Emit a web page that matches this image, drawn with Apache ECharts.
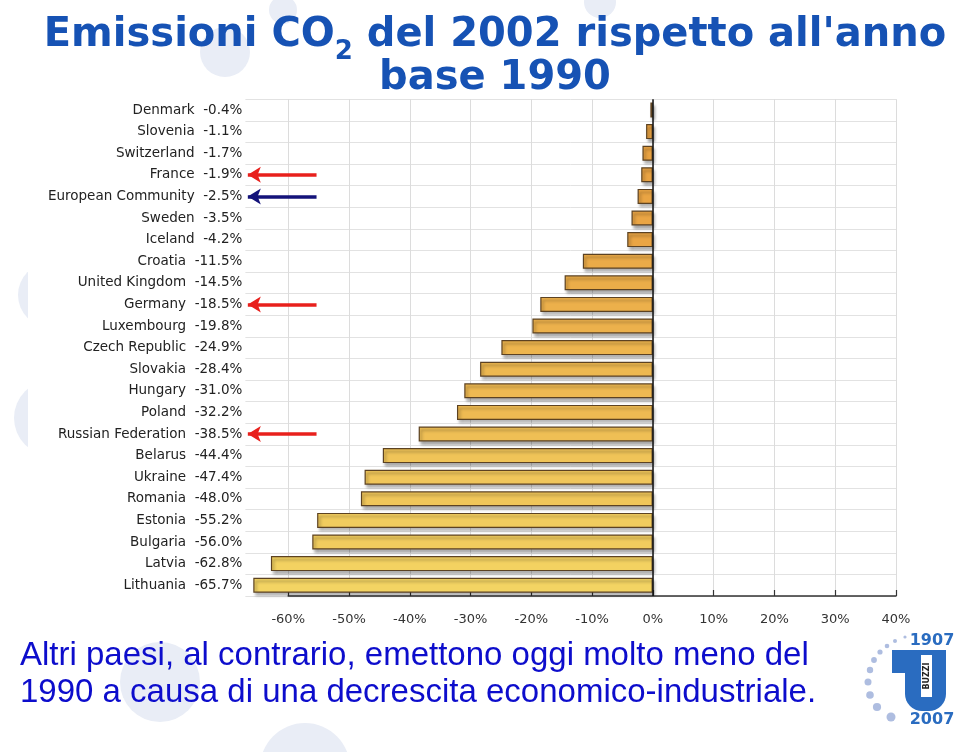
<!DOCTYPE html>
<html>
<head>
<meta charset="utf-8">
<script src="https://cdn.jsdelivr.net/npm/echarts@6/dist/echarts.min.js"></script>
<style>html,body{margin:0;padding:0;background:#fff;}#main{width:960px;height:752px;}</style>
</head>
<body>
<div id="main"></div>
<script>
const categories = ['Denmark','Slovenia','Switzerland','France','European Community','Sweden','Iceland','Croatia','United Kingdom','Germany','Luxembourg','Czech Republic','Slovakia','Hungary','Poland','Russian Federation','Belarus','Ukraine','Romania','Estonia','Bulgaria','Latvia','Lithuania'];
const values = [-0.4,-1.1,-1.7,-1.9,-2.5,-3.5,-4.2,-11.5,-14.5,-18.5,-19.8,-24.9,-28.4,-31.0,-32.2,-38.5,-44.4,-47.4,-48.0,-55.2,-56.0,-62.8,-65.7];
const xTicks = [-60,-50,-40,-30,-20,-10,0,10,20,30,40];
const arrowCategories = ['France','European Community','Germany','Russian Federation'];
const arrowColors = ['#e8201c','#14137a','#e8201c','#e8201c'];

const chart = echarts.init(document.getElementById('main'));

function lerpColor(a, b, t) {
  const pa = [1,3,5].map(i => parseInt(a.substr(i,2),16));
  const pb = [1,3,5].map(i => parseInt(b.substr(i,2),16));
  const c = pa.map((v,i) => Math.round(v + (pb[i]-v)*t));
  return 'rgb(' + c.join(',') + ')';
}

const TOP = 99.2, H = 496.8, RIGHT = 64;
const bgCircle = (cx, cy, r) => ({type:'circle', z:-10, shape:{cx, cy, r}, style:{fill:'#e9edf6'}, silent:true});

const logoDots = [[905,637,1.6],[895,641,2],[887,646,2.3],[880,652,2.6],[874,660,2.9],[870,670,3.2],[868,682,3.5],[870,695,3.8],[877,707,4.1],[891,717,4.5]];

const option = {
  backgroundColor: '#ffffff',
  animation: false,
  title: {
    text: '{a|Emissioni CO}{s|2}{a| del 2002 rispetto all\'anno}\n{a|base 1990}',
    left: 490, textAlign: 'center', top: 9,
    textStyle: {
      rich: {
        a: {fontFamily: '"DejaVu Sans"', fontWeight: 'bold', fontSize: 40, lineHeight: 43, color: '#1652b4'},
        s: {fontFamily: '"DejaVu Sans"', fontWeight: 'bold', fontSize: 26, lineHeight: 10, padding: [25,0,0,0], verticalAlign: 'top', color: '#1652b4'}
      }
    }
  },
  grid: [
    {left: 245.4, right: RIGHT, top: TOP, height: H},
    {left: 288.2, right: RIGHT, top: TOP, height: H}
  ],
  xAxis: [
    {gridIndex: 0, type: 'value', min: -67, max: 40, show: true,
     axisLine: {show: false}, axisTick: {show: false}, axisLabel: {show: false}, splitLine: {show: false}},
    {gridIndex: 1, type: 'value', min: xTicks[0], max: xTicks[xTicks.length-1], interval: 10,
     axisLine: {show: true, onZero: false, lineStyle: {color: '#333', width: 1.5}},
     axisTick: {show: true, inside: true, length: 6, lineStyle: {color: '#333', width: 1.2}},
     axisLabel: {formatter: '{value}%', margin: 17, fontFamily: '"DejaVu Sans"', fontSize: 13, color: '#333'},
     splitLine: {show: true, lineStyle: {color: '#dcdcdc', width: 1}}}
  ],
  yAxis: [
    {gridIndex: 0, type: 'category', inverse: true, data: categories,
     axisLine: {show: false}, axisTick: {show: false},
     splitLine: {show: true, lineStyle: {color: '#e2e2e2', width: 1}},
     axisLabel: {margin: 3, fontFamily: '"DejaVu Sans"', fontSize: 13.5, color: '#222',
       formatter: (v, i) => v + '  ' + values[i].toFixed(1) + '%'}},
    {gridIndex: 1, type: 'value', min: 0, max: 1, show: false}
  ],
  series: [{
    type: 'bar', xAxisIndex: 0, yAxisIndex: 0, data: values, barWidth: 15,
    itemStyle: {
      color: p => lerpColor('#e9a242', '#f3d463', Math.min(1, -p.value / 66)),
      borderColor: '#5c4222', borderWidth: 1.2,
      shadowColor: 'rgba(0,0,0,0.35)', shadowBlur: 3, shadowOffsetX: 2, shadowOffsetY: 3
    },
    markLine: {
      silent: true, animation: false,
      symbol: ['none', 'none'],
      label: {show: false},
      data: [
        {xAxis: 0, lineStyle: {color: '#111', width: 1.5, type: 'solid'}}
      ].concat(arrowCategories.map((c, i) => [
        {coord: [-55.3, c], symbol: 'none', lineStyle: {color: arrowColors[i], width: 3.5, type: 'solid'}},
        {coord: [-66.6, c], symbol: 'arrow', symbolSize: [12, 13]}
      ]))
    }
  }],
  graphic: [
    bgCircle(225, 52, 25), bgCircle(283, 10, 14), bgCircle(600, 2, 16),
    bgCircle(50, 295, 32), bgCircle(52, 418, 38),
    bgCircle(160, 682, 40), bgCircle(305, 768, 45),
    {type: 'rect', z: -9, silent: true, shape: {x: 28, y: 96, width: 878, height: 534}, style: {fill: '#ffffff'}},
    {type: 'text', left: 20, top: 637, z: 10,
     style: {text: 'Altri paesi, al contrario, emettono oggi molto meno del\n1990 a causa di una decrescita economico-industriale.',
       font: '33px "Liberation Sans", Arial, sans-serif', fill: '#0d0dcc', lineHeight: 37}},
    {type: 'text', x: 932, y: 641, z: 10, style: {text: '1907', font: 'bold 16px "DejaVu Sans"', fill: '#2a6cc0', textAlign: 'center', textVerticalAlign: 'middle'}},
    {type: 'text', x: 932, y: 720, z: 10, style: {text: '2007', font: 'bold 16px "DejaVu Sans"', fill: '#2a6cc0', textAlign: 'center', textVerticalAlign: 'middle'}},
    {type: 'rect', z: 10, shape: {x: 905, y: 650, width: 41, height: 61, r: [0,0,17,17]}, style: {fill: '#2a6cc0'}},
    {type: 'rect', z: 10, shape: {x: 892, y: 650, width: 14, height: 23}, style: {fill: '#2a6cc0'}},
    {type: 'rect', z: 11, shape: {x: 921, y: 655, width: 11, height: 42}, style: {fill: '#ffffff'}},
    {type: 'text', x: 926.5, y: 676, rotation: Math.PI/2, z: 12, style: {text: 'BUZZI', font: 'bold 8px "DejaVu Sans"', fill: '#222', textAlign: 'center', textVerticalAlign: 'middle'}}
  ].concat(logoDots.map(d => ({type: 'circle', z: 10, shape: {cx: d[0], cy: d[1], r: d[2]}, style: {fill: '#aebde0'}})))
};
chart.setOption(option);
</script>
</body>
</html>
